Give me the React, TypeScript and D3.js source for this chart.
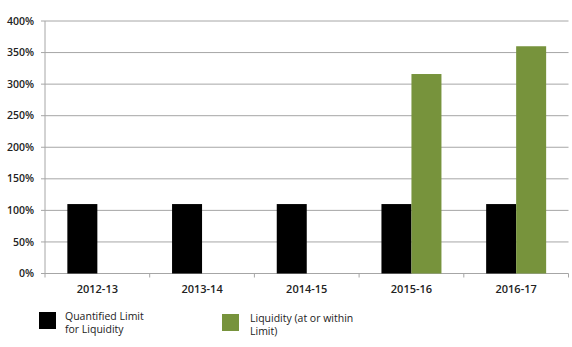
import React from "react";
import * as d3 from "d3";

const categories = ["2012-13", "2013-14", "2014-15", "2015-16", "2016-17"];
const seriesNames = ["Quantified Limit for Liquidity", "Liquidity (at or within Limit)"];
const legendLines = [
  ["Quantified Limit", "for Liquidity"],
  ["Liquidity (at or within", "Limit)"],
];
const quantifiedLimit = [1.1, 1.1, 1.1, 1.1, 1.1];
const liquidity = [null, null, null, 3.16, 3.6];
const yTicks = [0, 0.5, 1, 1.5, 2, 2.5, 3, 3.5, 4];
const colors = ["#000000", "#77933C"];

const W = 572;
const H = 347;
const left = 45;
const right = 568.5;
const top = 21;
const bottom = 273.5;
const font = "'Open Sans', sans-serif";

export default function App() {
  const x0 = d3.scaleBand<string>().domain(categories).range([left, right]).paddingInner(0).paddingOuter(0);
  const bw = x0.bandwidth();
  const barW = 30;
  const x1 = d3
    .scaleBand<string>()
    .domain(["a", "b"])
    .range([bw / 2 - barW, bw / 2 + barW])
    .padding(0);
  const y = d3.scaleLinear().domain([0, 4]).range([bottom, top]);
  const fmt = d3.format(".0%");
  const series = [quantifiedLimit, liquidity];
  const keys = ["a", "b"];
  const gridColor = "#A6A6A6";
  const legendPos = [
    { sx: 39, sy: 312, tx: 65, ty: 320 },
    { sx: 222, sy: 314, tx: 250, ty: 322 },
  ];

  return (
    <svg
      width={W}
      height={H}
      style={{ position: "absolute", left: 0, top: 0, background: "#fff" }}
    >
      {yTicks.map((t) => (
        <g key={t}>
          {t > 0 && (
            <line x1={left} x2={right} y1={y(t)} y2={y(t)} stroke={gridColor} strokeWidth={1} />
          )}
          <line x1={left - 4} x2={left} y1={y(t)} y2={y(t)} stroke={gridColor} strokeWidth={1} />
          <text
            x={34}
            y={y(t)}
            dy="0.35em"
            textAnchor="end"
            fontFamily={font}
            fontWeight={600}
            fontSize={10.5}
            fill="#222"
          >
            {fmt(t)}
          </text>
        </g>
      ))}
      <line x1={left} x2={left} y1={top} y2={bottom} stroke={gridColor} strokeWidth={1} />
      <line x1={left} x2={right} y1={bottom} y2={bottom} stroke={gridColor} strokeWidth={1} />
      {categories.map((c) => (
        <line
          key={"t" + c}
          x1={x0(c) as number}
          x2={x0(c) as number}
          y1={bottom}
          y2={bottom + 4}
          stroke={gridColor}
        />
      ))}
      <line x1={right} x2={right} y1={bottom} y2={bottom + 4} stroke={gridColor} />
      {series.map((vals, si) =>
        vals.map((v, i) =>
          v == null ? null : (
            <rect
              key={si + "-" + i}
              x={(x0(categories[i]) as number) + (x1(keys[si]) as number)}
              y={y(v)}
              width={x1.bandwidth()}
              height={y(0) - y(v)}
              fill={colors[si]}
            />
          )
        )
      )}
      {categories.map((c) => (
        <text
          key={"l" + c}
          x={(x0(c) as number) + bw / 2}
          y={293}
          textAnchor="middle"
          fontFamily={font}
          fontWeight={600}
          fontSize={11}
          fill="#222"
        >
          {c}
        </text>
      ))}
      {seriesNames.map((name, i) => (
        <g key={name}>
          <rect x={legendPos[i].sx} y={legendPos[i].sy} width={17} height={17} fill={colors[i]} />
          <text fontFamily={font} fontSize={10.5} fontWeight={500} fill="#222">
            {legendLines[i].map((ln, j) => (
              <tspan key={j} x={legendPos[i].tx} y={legendPos[i].ty + j * 13}>
                {ln}
              </tspan>
            ))}
          </text>
        </g>
      ))}
    </svg>
  );
}
